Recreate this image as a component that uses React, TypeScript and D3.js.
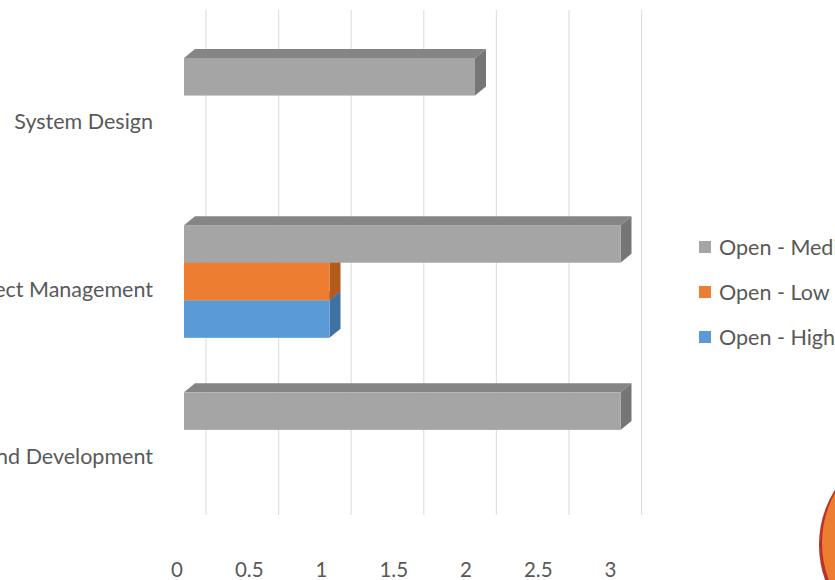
import React from "react";
import * as d3 from "d3";

const categories = ["System Design", "Project Management", "Research and Development"];
const seriesNames = ["Open - Medium", "Open - Low", "Open - High"];
const valuesMedium = [2, 3, 3];
const valuesLow = [0, 1, 0];
const valuesHigh = [0, 1, 0];
const tickValues = [0, 0.5, 1, 1.5, 2, 2.5, 3];
const tickLabels = ["0", "0.5", "1", "1.5", "2", "2.5", "3"];

const W = 835;
const H = 580;
const DX = 11;
const DY = 9;
const FONT = "Lato, 'Open Sans', sans-serif";
const TEXT = "#595959";
const FS = 21.5;

const palette = [
  { front: "#A5A5A5", top: "#858585", side: "#767676", legend: "#A5A5A5" },
  { front: "#ED7D31", top: "#C2621F", side: "#B35A1C", legend: "#ED7D31" },
  { front: "#5B9BD5", top: "#4A80B3", side: "#3E72A3", legend: "#5B9BD5" },
];

export default function App() {
  const seriesValues = [valuesMedium, valuesLow, valuesHigh];
  const xBar = d3.scaleLinear().domain([0, 3]).range([184, 184 + 3 * 145.5]);
  const xFront = d3.scaleLinear().domain([0, 3]).range([177, 177 + 3 * 144.5]);
  const xBack = d3.scaleLinear().domain([0, 3]).range([206, 206 + 3 * 145.2]);
  const y = d3.scaleBand<string>().domain(categories).range([58, 505]).paddingInner(0.326).paddingOuter(0);
  const ySeries = d3.scaleBand<string>().domain(seriesNames).range([0, y.bandwidth()]).padding(0);
  const legendY = d3.scalePoint<string>().domain(seriesNames).range([247, 337]);

  const bars: React.ReactNode[] = [];
  categories.forEach((cat, ci) => {
    for (let si = seriesNames.length - 1; si >= 0; si--) {
      const v = seriesValues[si][ci];
      if (!v) continue;
      const c = palette[si];
      const x0 = xBar(0);
      const x1 = xBar(v);
      const y0 = (y(cat) as number) + (ySeries(seriesNames[si]) as number);
      const y1 = y0 + ySeries.bandwidth();
      bars.push(
        <g key={`${ci}-${si}`}>
          <polygon
            points={`${x0},${y0} ${x0 + DX},${y0 - DY} ${x1 + DX},${y0 - DY} ${x1},${y0}`}
            fill={c.top}
          />
          <polygon
            points={`${x1},${y0} ${x1 + DX},${y0 - DY} ${x1 + DX},${y1 - DY} ${x1},${y1}`}
            fill={c.side}
          />
          <rect x={x0} y={y0} width={x1 - x0} height={y1 - y0} fill={c.front} />
        </g>
      );
    }
  });

  return (
    <div style={{ position: "fixed", left: 0, top: 0 }}>
      <svg width={W} height={H} style={{ display: "block", background: "#fff" }}>
        {tickValues.map((t) => (
          <line key={`g${t}`} x1={xBack(t)} x2={xBack(t)} y1={10} y2={515} stroke="#E0E0E0" strokeWidth={1.2} />
        ))}
        {bars}
        {tickValues.map((t, i) => (
          <text key={`t${t}`} x={xFront(t)} y={570} dy="0.35em" fontFamily={FONT} fontSize={20.5} fill={TEXT} textAnchor="middle">
            {tickLabels[i]}
          </text>
        ))}
        {categories.map((cat) => (
          <text
            key={cat}
            x={153}
            y={(y(cat) as number) + y.bandwidth() / 2 + 7.5}
            dy="0.35em"
            fontFamily={FONT}
            fontSize={FS}
            fill={TEXT}
            textAnchor="end"
          >
            {cat}
          </text>
        ))}
        {seriesNames.map((s, i) => (
          <g key={s}>
            <rect x={699} y={(legendY(s) as number) - 6} width={12} height={12} fill={palette[i].legend} />
            <text x={719} y={legendY(s) as number} dy="0.35em" fontFamily={FONT} fontSize={FS} fill={TEXT}>
              {s}
            </text>
          </g>
        ))}
        <ellipse cx={905} cy={545} rx={86} ry={95} fill="#B8322A" />
        <ellipse cx={907} cy={543} rx={85} ry={94} fill="#ED7D31" />
      </svg>
    </div>
  );
}
